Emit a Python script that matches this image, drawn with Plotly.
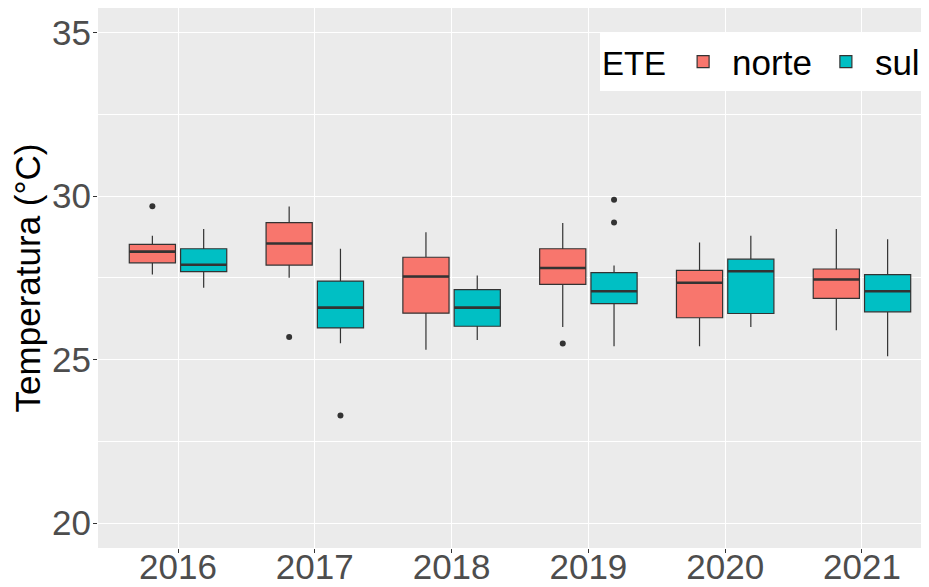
import plotly.graph_objects as go

years = ["2016", "2017", "2018", "2019", "2020", "2021"]

norte_lower = [27.60, 27.50, 25.30, 26.00, 25.41, 25.90]
norte_q1 = [27.96, 27.89, 26.42, 27.30, 26.28, 26.87]
norte_median = [28.30, 28.55, 27.54, 27.80, 27.35, 27.45]
norte_q3 = [28.52, 29.19, 28.13, 28.39, 27.73, 27.77]
norte_upper = [28.79, 29.68, 28.89, 29.18, 28.58, 28.99]
norte_out_year = ["2016", "2017", "2019"]
norte_out_val = [29.69, 25.69, 25.49]

sul_lower = [27.20, 25.50, 25.60, 25.41, 26.00, 25.10]
sul_q1 = [27.69, 25.97, 26.02, 26.71, 26.41, 26.46]
sul_median = [27.90, 26.59, 26.59, 27.09, 27.70, 27.09]
sul_q3 = [28.39, 27.40, 27.14, 27.66, 28.07, 27.60]
sul_upper = [28.99, 28.39, 27.57, 27.88, 28.79, 28.68]
sul_out_year = ["2017", "2019", "2019"]
sul_out_val = [23.29, 29.89, 29.19]

groups = [
    ("norte", "#F8766D", -0.1875, norte_lower, norte_q1, norte_median, norte_q3, norte_upper, norte_out_year, norte_out_val),
    ("sul", "#00BFC4", 0.1875, sul_lower, sul_q1, sul_median, sul_q3, sul_upper, sul_out_year, sul_out_val),
]

BOXW = 0.3375
fig = go.Figure()
for name, color, off, lo, q1, med, q3, up, oy, ov in groups:
    xs = [i + off for i in range(len(years))]
    fig.add_trace(go.Box(
        name=name, x=xs, q1=q1, median=med, q3=q3,
        lowerfence=lo, upperfence=up, width=BOXW,
        fillcolor=color, line=dict(color="#333333", width=1.2),
        whiskerwidth=0, boxpoints=False, showlegend=True,
    ))
for name, color, off, lo, q1, med, q3, up, oy, ov in groups:
    mx, my = [], []
    for i, m in enumerate(med):
        mx += [i + off - BOXW / 2, i + off + BOXW / 2, None]
        my += [m, m, None]
    fig.add_trace(go.Scatter(x=mx, y=my, mode="lines",
                             line=dict(color="#333333", width=2.6),
                             showlegend=False, hoverinfo="skip"))
    fig.add_trace(go.Scatter(
        x=[years.index(y) + off for y in oy], y=ov, mode="markers",
        marker=dict(color="#333333", size=6), showlegend=False))

font = "Liberation Sans, Arial, sans-serif"
fig.update_layout(
    width=921, height=579,
    margin=dict(l=90, r=0, t=0, b=39, autoexpand=False),
    paper_bgcolor="white", plot_bgcolor="#EBEBEB",
    font=dict(family=font, color="black"),
    boxmode="overlay",
    xaxis=dict(range=[-0.585, 5.49], tickvals=list(range(len(years))), ticktext=years,
               showgrid=True, gridcolor="white", gridwidth=1.4, zeroline=False,
               ticks="outside", ticklen=4, tickcolor="#333333", automargin=False,
               ticklabelstandoff=-16,
               tickfont=dict(size=35, color="#4D4D4D", family=font)),
    yaxis=dict(range=[19.24, 35.75], tickvals=[20, 25, 30, 35],
               showgrid=True, gridcolor="white", gridwidth=1.4, zeroline=False,
               minor=dict(tickvals=[22.5, 27.5, 32.5], showgrid=True, gridcolor="white", gridwidth=0.7),
               ticks="outside", ticklen=4, tickcolor="#333333", automargin=False,
               ticklabelstandoff=-5,
               tickfont=dict(size=35, color="#4D4D4D", family=font),
               title=dict(text="Temperatura (°C)", font=dict(size=35, color="black", family=font), standoff=8)),
    legend=dict(orientation="h", x=0.604, xanchor="left", y=0.955, yanchor="top",
                bgcolor="white", font=dict(size=35, color="black", family=font),
                title=dict(text="ETE", side="left", font=dict(size=33, color="black", family=font)),
                itemwidth=48, tracegroupgap=0),
)
fig.write_html("out.html")
